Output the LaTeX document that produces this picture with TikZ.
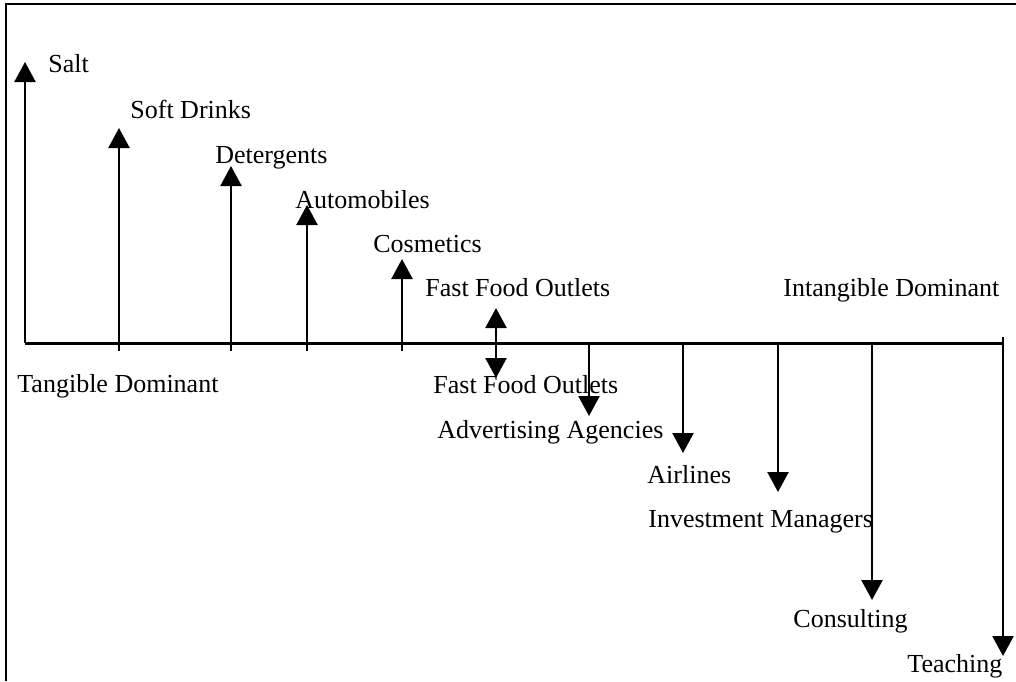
\documentclass[tikz,border=0pt]{standalone}
\usepackage{fontspec}
\setmainfont{Liberation Serif}
\usetikzlibrary{arrows.meta}
\begin{document}
\begin{tikzpicture}[x=0.5pt,y=-0.5pt,
  lbl/.style={anchor=base west,inner sep=0pt,font=\fontsize{13}{15}\selectfont},
  arr/.style={line width=1.2pt,-{Triangle[width=10.5pt,length=10pt]}},
  dbl/.style={line width=1.2pt,{Triangle[width=10.5pt,length=10pt]}-{Triangle[width=10.5pt,length=10pt]}},
  axisline/.style={line width=1.5pt},
  frameline/.style={line width=1.2pt}]
\useasboundingbox (0,0) rectangle (1016,681);

% frame
\coordinate (fbl) at (6,681);
\coordinate (ftl) at (6,4);
\coordinate (ftr) at (1016,4);
\draw[frameline] (fbl) -- (ftl) -- (ftr);

% axis
\coordinate (ax0) at (25,343);
\coordinate (ax1) at (1003,343);
\draw[axisline] (ax0) -- (ax1);

% tangible side: arrows pointing up
\coordinate (saltB) at (25,343);   \coordinate (saltT) at (25,62);
\coordinate (softB) at (119,351);  \coordinate (softT) at (119,128);
\coordinate (detB) at (231,351);   \coordinate (detT) at (231,166);
\coordinate (autoB) at (307,351);  \coordinate (autoT) at (307,205);
\coordinate (cosB) at (402,351);   \coordinate (cosT) at (402,259);
\draw[arr] (saltB) -- (saltT);
\draw[arr] (softB) -- (softT);
\draw[arr] (detB) -- (detT);
\draw[arr] (autoB) -- (autoT);
\draw[arr] (cosB) -- (cosT);

% mixed: both directions
\coordinate (ffT) at (496,308);
\coordinate (ffB) at (496,378);
\draw[dbl] (ffB) -- (ffT);

% intangible side: arrows pointing down
\coordinate (advA) at (589,343);   \coordinate (advT) at (589,416);
\coordinate (airA) at (683,343);   \coordinate (airT) at (683,453);
\coordinate (invA) at (778,343);   \coordinate (invT) at (778,492);
\coordinate (conA) at (872,343);   \coordinate (conT) at (872,600);
\coordinate (teaA) at (1003,337);  \coordinate (teaT) at (1003,656);
\draw[arr] (advA) -- (advT);
\draw[arr] (airA) -- (airT);
\draw[arr] (invA) -- (invT);
\draw[arr] (conA) -- (conT);
\draw[arr] (teaA) -- (teaT);

% labels
\node[lbl] (salt) at (48,72) {Salt};
\node[lbl] (soft) at (130,118) {Soft Drinks};
\node[lbl] (det) at (215,163) {Detergents};
\node[lbl] (auto) at (295,208) {Automobiles};
\node[lbl] (cos) at (373,252) {Cosmetics};
\node[lbl] (ffup) at (425,296) {Fast Food Outlets};
\node[lbl] (intang) at (783,296) {Intangible Dominant};
\node[lbl] (tang) at (17,392) {Tangible Dominant};
\node[lbl] (ffdn) at (433,393) {Fast Food Outlets};
\node[lbl] (adv) at (437,438) {Advertising Agencies};
\node[lbl] (air) at (647,483) {Airlines};
\node[lbl] (inv) at (648,527) {Investment Managers};
\node[lbl] (con) at (793,627) {Consulting};
\node[lbl] (tea) at (907,672) {Teaching};
\end{tikzpicture}
\end{document}
